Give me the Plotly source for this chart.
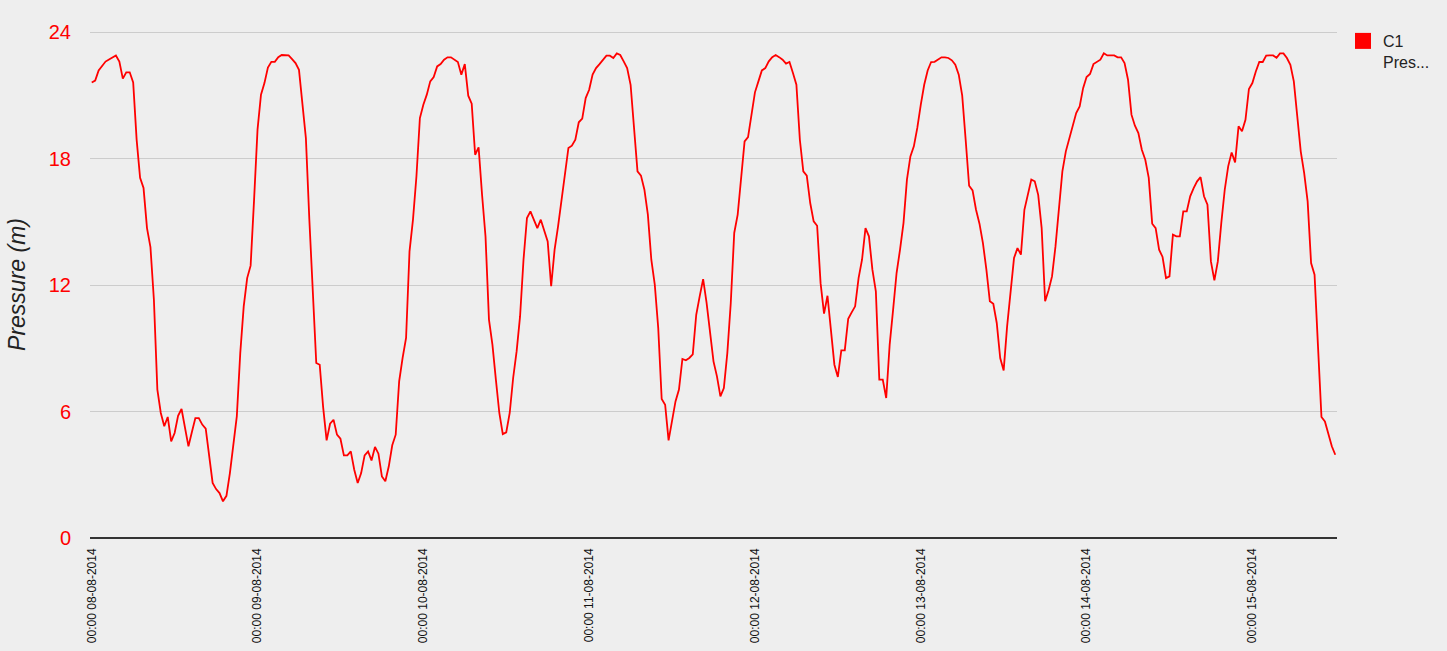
import pandas as pd
import plotly.graph_objects as go

# ---- data ----
start_time = "2014-08-08 00:00"
step = "30min"
series_name = "C1<br>Pres..."
pressure = [
    21.61, 21.70, 22.18, 22.37, 22.60, 22.70, 22.80, 22.89, 22.60, 21.79,
    22.09, 22.09, 21.61, 18.90, 17.09, 16.60, 14.70, 13.80, 11.30, 7.04,
    5.93, 5.30, 5.74, 4.58, 4.98, 5.80, 6.12, 5.30, 4.35, 5.03,
    5.69, 5.69, 5.38, 5.19, 3.87, 2.61, 2.32, 2.13, 1.74, 2.00,
    3.08, 4.35, 5.77, 8.77, 10.99, 12.33, 12.92, 16.05, 19.37, 21.03,
    21.58, 22.32, 22.59, 22.59, 22.81, 22.91, 22.91, 22.89, 22.72, 22.53,
    22.21, 20.63, 18.97, 15.10, 11.94, 8.30, 8.22, 6.20, 4.63, 5.42,
    5.61, 4.90, 4.71, 3.92, 3.92, 4.11, 3.24, 2.61, 3.08, 3.92,
    4.11, 3.68, 4.32, 4.00, 2.92, 2.69, 3.40, 4.40, 4.90, 7.43,
    8.54, 9.49, 13.60, 15.10, 17.15, 19.92, 20.55, 21.03, 21.66, 21.87,
    22.37, 22.48, 22.69, 22.80, 22.80, 22.69, 22.58, 21.98, 22.48, 20.98,
    20.60, 18.18, 18.53, 16.28, 14.30, 10.36, 9.17, 7.51, 5.93, 4.93,
    5.01, 5.93, 7.59, 8.85, 10.51, 13.20, 15.18, 15.49, 15.10, 14.70,
    15.10, 14.62, 14.07, 11.94, 13.68, 14.78, 16.10, 17.15, 18.50, 18.61,
    18.89, 19.72, 19.89, 20.87, 21.26, 21.98, 22.29, 22.48, 22.69, 22.88,
    22.88, 22.77, 22.99, 22.91, 22.61, 22.29, 21.50, 19.21, 17.39, 17.19,
    16.52, 15.34, 13.20, 12.02, 9.96, 6.59, 6.32, 4.63, 5.53, 6.48,
    7.04, 8.49, 8.43, 8.54, 8.71, 10.59, 11.46, 12.28, 11.15, 9.88,
    8.38, 7.67, 6.72, 7.11, 8.77, 11.15, 14.47, 15.34, 17.00, 18.81,
    19.02, 20.00, 21.14, 21.66, 22.18, 22.29, 22.61, 22.81, 22.91, 22.81,
    22.69, 22.50, 22.58, 22.06, 21.50, 18.89, 17.39, 17.19, 15.89, 15.02,
    14.81, 12.09, 10.64, 11.49, 9.80, 8.22, 7.64, 8.90, 8.90, 10.40,
    10.70, 10.99, 12.33, 13.20, 14.70, 14.31, 12.73, 11.70, 7.51, 7.51,
    6.64, 9.17, 10.83, 12.57, 13.68, 14.94, 17.00, 18.10, 18.58, 19.45,
    20.55, 21.50, 22.18, 22.58, 22.59, 22.69, 22.80, 22.80, 22.77, 22.66,
    22.45, 21.98, 20.98, 18.89, 16.71, 16.49, 15.57, 14.91, 13.99, 12.73,
    11.23, 11.11, 10.20, 8.54, 7.95, 10.04, 11.62, 13.28, 13.75, 13.44,
    15.57, 16.28, 17.00, 16.92, 16.28, 14.70, 11.23, 11.75, 12.41, 13.83,
    15.73, 17.39, 18.34, 18.97, 19.56, 20.16, 20.47, 21.34, 21.87, 22.01,
    22.48, 22.58, 22.69, 22.99, 22.89, 22.89, 22.89, 22.80, 22.80, 22.53,
    21.74, 20.08, 19.56, 19.21, 18.42, 17.94, 17.08, 14.91, 14.70, 13.68,
    13.33, 12.33, 12.41, 14.39, 14.31, 14.31, 15.49, 15.49, 16.21, 16.60,
    16.92, 17.12, 16.21, 15.81, 13.12, 12.22, 13.12, 14.94, 16.52, 17.63,
    18.29, 17.82, 19.53, 19.29, 19.84, 21.30, 21.58, 22.13, 22.58, 22.58,
    22.88, 22.89, 22.89, 22.78, 22.99, 22.99, 22.77, 22.45, 21.66, 20.00,
    18.34, 17.31, 15.97, 13.04, 12.49, 9.09, 5.74, 5.53, 4.98, 4.35,
    3.95,
]
y_ticks = [0, 6, 12, 18, 24]
y_max = 24.05
y_title = "Pressure (m)"

times = pd.date_range(start=start_time, periods=len(pressure), freq=step)
half = pd.Timedelta(step) / 2
x_range = [times[0] - half, times[-1] + half]

FONT = "Liberation Sans, Arial, sans-serif"
RED = "#ff0000"
BG = "#eeeeee"

fig = go.Figure()
fig.add_trace(go.Scatter(
    x=times, y=pressure, mode="lines",
    line=dict(color=RED, width=1.8),
    showlegend=False, hoverinfo="x+y",
))
# legend entry (square swatch like the original)
fig.add_trace(go.Scatter(
    x=[None], y=[None], mode="markers", name=series_name,
    marker=dict(symbol="square", size=16, color=RED),
    showlegend=True,
))

fig.update_layout(
    width=1447, height=651,
    margin=dict(l=90, r=110, t=31, b=113, autoexpand=False),
    paper_bgcolor=BG, plot_bgcolor=BG,
    font=dict(family=FONT, color="#222222"),
    legend=dict(
        xref="container", yref="container",
        x=1343 / 1447, y=1 - 24 / 651, xanchor="left", yanchor="top",
        bgcolor="rgba(0,0,0,0)", font=dict(size=16, color="#222222", family=FONT),
        valign="top", itemwidth=30, tracegroupgap=0,
    ),
    xaxis=dict(
        type="date", range=x_range,
        tickmode="linear", tick0=start_time, dtick=86400000,
        tickformat="%H:%M %d-%m-%Y", tickangle=-90,
        tickfont=dict(size=12, color="#111111", family=FONT),
        showgrid=False, zeroline=False, showline=False, ticks="",
        ticklabelstandoff=7,
    ),
    yaxis=dict(
        range=[0, y_max], tickvals=y_ticks,
        tickfont=dict(size=20, color=RED, family=FONT),
        showgrid=True, gridcolor="#cccccc", gridwidth=1,
        zeroline=True, zerolinecolor="#333333", zerolinewidth=1.5,
        showline=False, ticks="", ticklabelstandoff=18,
        title=dict(text=y_title, font=dict(size=23, color="#222222", family=FONT, style="italic"), standoff=16),
    ),
)

fig.write_html("out.html")
